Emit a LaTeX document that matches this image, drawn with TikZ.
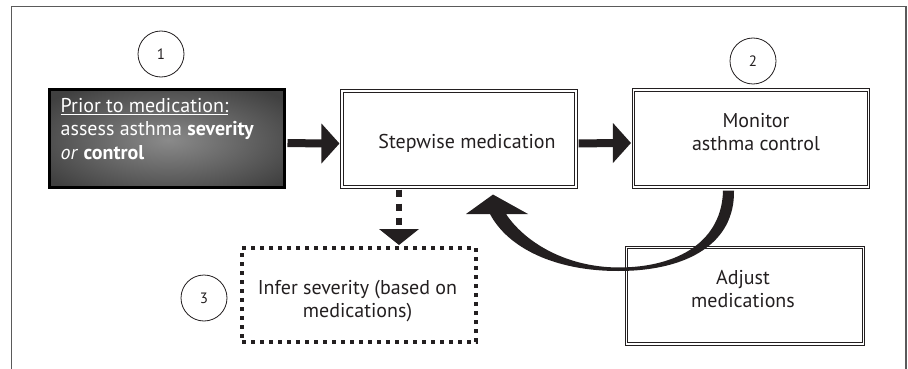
\documentclass[tikz,border=0pt]{standalone}
\usepackage{fontspec}
\setmainfont{PT Sans}
\usetikzlibrary{calc}
\definecolor{ink}{HTML}{231F20}
\definecolor{darkfill}{HTML}{404040}
\definecolor{glow}{HTML}{8A8A8A}
\definecolor{framec}{HTML}{5A5A5A}
\begin{document}
\begin{tikzpicture}[x=1pt,y=-1pt,
  txt/.style={text=ink, font=\fontsize{20}{23.5}\selectfont, inner sep=0pt},
  dbl/.style={draw=ink, line width=1.1pt, double=white, double distance=1.6pt, inner sep=0pt},
  darkbox/.style={draw=black, line width=3pt, inner sep=0pt},
  dotbox/.style={draw=ink, line width=4pt, dash pattern=on 4pt off 5pt, inner sep=0pt},
  circ/.style={circle, draw=ink, line width=0.8pt, minimum size=46pt, inner sep=0pt, text=ink, font=\fontsize{15}{15}\selectfont},
  shaft/.style={draw=ink, line width=8pt},
  dshaft/.style={draw=ink, line width=6.5pt, dash pattern=on 7pt off 7pt},
  head/.style={fill=ink}
]
\useasboundingbox (0,0) rectangle (908,369);
% outer frame
\draw[framec, line width=1.5pt] (11.5,369) -- (11.5,6.5) -- (906,6.5) -- (906,369);

% boxes
\node[dbl, minimum width=234pt, minimum height=96pt] (step) at (459,139) {};
\node[dbl, minimum width=235pt, minimum height=97pt] (mon) at (751,138.5) {};
\node[dbl, minimum width=237pt, minimum height=96.5pt] (adj) at (745,295.75) {};
\node[dotbox, minimum width=234pt, minimum height=94pt] (infer) at (359,295) {};

% dark box with glow
\node[fill=darkfill, minimum width=235.5pt, minimum height=97pt, inner sep=0pt] (priorbg) at (166.75,138.5) {};
\begin{scope}
  \clip ($(priorbg.north west)+(1.5,1.5)$) rectangle ($(priorbg.south east)+(-1.5,-1.5)$);
  \shade[inner color=glow, outer color=darkfill] (168,140) ellipse [x radius=150, y radius=64];
\end{scope}
\node[darkbox, minimum width=235.5pt, minimum height=97pt] (prior) at (166.75,138.5) {};

% texts
\node[txt, text=white, anchor=west, align=left] (priortxt) at (60.5,129) {\underline{Prior to medication:}\\assess asthma \textbf{severity}\\\textit{or} \textbf{control}};
\node[txt] (steptxt) at (467,143) {Stepwise medication};
\node[txt, align=center] (montxt) at (756,132) {Monitor\\asthma control};
\node[txt, align=center] (adjtxt) at (743,289) {Adjust\\medications};
\node[txt, align=center] (inftxt) at (357.5,301) {Infer severity (based on\\medications)};

% circles
\node[circ] (c1) at (161,54) {1};
\node[circ] (c2) at (753,61) {2};
\node[circ] (c3) at (204,298) {3};

% arrow 1: prior -> step
\coordinate (a1s) at ($(prior.east)+(1.5,4.5)$);
\coordinate (a1t) at ($(step.west)+(-2,4.5)$);
\draw[shaft] (a1s) -- ($(a1t)+(-16,0)$);
\fill[head] (a1t) -- ($(a1t)+(-18,-20)$) -- ($(a1t)+(-18,20)$) -- cycle;
% arrow 2: step -> mon
\coordinate (a2s) at ($(step.east)+(2,4.5)$);
\coordinate (a2t) at ($(mon.west)+(-2,4.5)$);
\draw[shaft] (a2s) -- ($(a2t)+(-16,0)$);
\fill[head] (a2t) -- ($(a2t)+(-18,-20)$) -- ($(a2t)+(-18,20)$) -- cycle;
% dashed arrow: step -> infer
\coordinate (a3s) at ($(step.south)+(-60,2)$);
\coordinate (a3t) at ($(infer.north)+(40,-1)$);
\draw[dshaft] (a3s) -- ($(a3t)+(0,-15)$);
\fill[head] (a3t) -- ($(a3t)+(-20,-16)$) -- ($(a3t)+(20,-16)$) -- cycle;

% curved feedback arrow: mon -> step
\coordinate (cs) at ($(mon.south)+(-22.5,3)$);
\coordinate (ce) at ($(step.south)+(34,7)$);
\fill[ink] ($(cs)+(5.5,0)$) .. controls (735,243) and (688,271) .. (618,271)
  .. controls (555,271) and (508,248) .. (490,214)
  -- (466,214) -- (ce) -- (528,214) -- (506,214)
  .. controls (524,241) and (564,267) .. (618,267.5)
  .. controls (680,267.5) and (722,240) .. ($(cs)+(-5.5,0)$) -- cycle;
\end{tikzpicture}
\end{document}
